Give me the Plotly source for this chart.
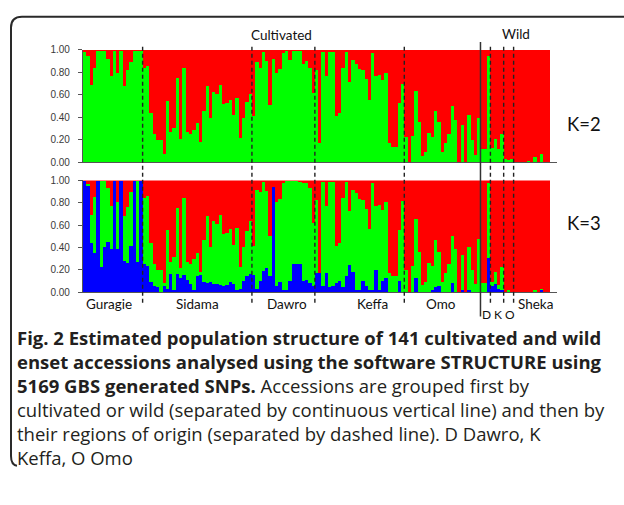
import plotly.graph_objects as go

W, H = 624, 505

group_names = ["Guragie", "Sidama", "Dawro", "Keffa", "Omo", "D", "K", "O", "Sheka"]
group_sizes = [18, 33, 19, 27, 23, 3, 4, 3, 11]

# K=2: proportion of the green cluster (rest is red)
k2_green = [
    # Guragie
    0.98, 0.95, 0.69, 0.84, 0.99, 0.99, 0.99, 0.92, 0.77, 0.99, 0.80, 0.99, 0.68, 0.82, 0.89, 0.99, 0.99, 0.99,
    # Sidama
    0.84, 0.86, 0.44, 0.25, 0.20, 0.20, 0.08, 0.55, 0.27, 0.31, 0.75, 0.21, 0.84, 0.27, 0.25, 0.29, 0.35,
    0.18, 0.46, 0.68, 0.40, 0.63, 0.61, 0.69, 0.52, 0.53, 0.56, 0.42, 0.57, 0.22, 0.40, 0.54, 0.61,
    # Dawro
    0.41, 0.89, 0.84, 0.98, 0.90, 0.51, 0.92, 0.80, 0.83, 0.97, 0.99, 0.91, 0.99, 0.99, 0.99, 0.88, 0.90, 0.84, 0.62,
    # Keffa
    0.82, 0.17, 0.98, 0.77, 0.98, 0.98, 0.41, 0.44, 0.84, 0.98, 0.72, 0.91, 0.88, 0.83, 0.82, 0.74, 0.56,
    0.97, 0.77, 0.78, 0.73, 0.80, 0.17, 0.14, 0.14, 0.53, 0.70,
    # Omo
    0.23, 0.00, 0.24, 0.64, 0.36, 0.06, 0.09, 0.26, 0.23, 0.46, 0.36, 0.09, 0.17, 0.25, 0.50, 0.38, 0.00,
    0.33, 0.00, 0.42, 0.20, 0.07, 0.40,
    # D, K, O (wild)
    0.12, 0.12, 0.95,
    0.13, 0.21, 0.12, 0.25,
    0.03, 0.02, 0.03,
    # Sheka
    0.00, 0.00, 0.00, 0.00, 0.01, 0.00, 0.05, 0.00, 0.08, 0.00, 0.00,
]

# K=3: upper edge of the green cluster (blue + green), rest is red
k3_top = [
    0.99, 0.96, 0.69, 0.85, 0.99, 0.99, 0.99, 0.93, 0.77, 0.99, 0.80, 0.99, 0.68, 0.76, 0.89, 0.99, 0.99, 0.99,
    0.84, 0.86, 0.44, 0.25, 0.20, 0.20, 0.08, 0.55, 0.27, 0.31, 0.75, 0.21, 0.84, 0.27, 0.25, 0.29, 0.35,
    0.18, 0.46, 0.68, 0.40, 0.63, 0.61, 0.69, 0.52, 0.53, 0.56, 0.42, 0.57, 0.22, 0.40, 0.54, 0.63,
    0.41, 0.91, 0.89, 0.98, 0.90, 0.50, 0.94, 0.80, 0.83, 0.97, 0.99, 0.99, 0.99, 0.99, 0.98, 0.97, 0.97, 0.93, 0.62,
    0.82, 0.17, 0.98, 0.77, 0.98, 0.98, 0.41, 0.44, 0.84, 0.98, 0.72, 0.91, 0.88, 0.83, 0.82, 0.74, 0.56,
    0.97, 0.77, 0.78, 0.73, 0.80, 0.17, 0.14, 0.14, 0.55, 0.81,
    0.20, 0.00, 0.23, 0.65, 0.36, 0.06, 0.09, 0.26, 0.23, 0.46, 0.36, 0.09, 0.17, 0.25, 0.50, 0.38, 0.00,
    0.33, 0.00, 0.40, 0.20, 0.07, 0.47,
    0.08, 0.08, 0.97,
    0.09, 0.18, 0.06, 0.22,
    0.00, 0.02, 0.00,
    0.00, 0.00, 0.00, 0.00, 0.00, 0.00, 0.02, 0.00, 0.03, 0.00, 0.00,
]

# K=3: proportion of the blue cluster
k3_blue = [
    0.99, 0.95, 0.44, 0.35, 0.99, 0.22, 0.40, 0.45, 0.38, 0.99, 0.38, 0.99, 0.28, 0.26, 0.41, 0.99, 0.27, 0.99,
    0.25, 0.23, 0.09, 0.05, 0.04, 0.00, 0.05, 0.03, 0.16, 0.02, 0.16, 0.12, 0.15, 0.11, 0.07, 0.02, 0.14,
    0.15, 0.09, 0.08, 0.09, 0.07, 0.07, 0.06, 0.05, 0.06, 0.09, 0.07, 0.02, 0.03, 0.10, 0.14, 0.16,
    0.15, 0.03, 0.10, 0.19, 0.21, 0.14, 0.94, 0.05, 0.09, 0.02, 0.02, 0.10, 0.25, 0.25, 0.25, 0.10, 0.11, 0.08, 0.05,
    0.17, 0.17, 0.05, 0.17, 0.04, 0.05, 0.08, 0.10, 0.04, 0.14, 0.24, 0.18, 0.02, 0.01, 0.10, 0.05, 0.02,
    0.02, 0.20, 0.02, 0.10, 0.12, 0.00, 0.00, 0.00, 0.10, 0.00,
    0.00, 0.00, 0.00, 0.12, 0.00, 0.00, 0.00, 0.00, 0.01, 0.04, 0.05, 0.00, 0.00, 0.00, 0.08, 0.00, 0.00,
    0.02, 0.00, 0.02, 0.00, 0.00, 0.00,
    0.00, 0.00, 0.30,
    0.05, 0.07, 0.03, 0.02,
    0.00, 0.00, 0.00,
    0.00, 0.00, 0.00, 0.00, 0.00, 0.00, 0.00, 0.00, 0.01, 0.00, 0.00,
]

y_ticks = [0.0, 0.2, 0.4, 0.6, 0.8, 1.0]

caption_lines = [
    "<b>Fig. 2 Estimated population structure of 141 cultivated and wild</b>",
    "<b>enset accessions analysed using the software STRUCTURE using</b>",
    "<b>5169 GBS generated SNPs.</b> Accessions are grouped first by",
    "cultivated or wild (separated by continuous vertical line) and then by",
    "their regions of origin (separated by dashed line). D Dawro, K",
    "Keffa, O Omo",
]

RED, GREEN, BLUE = "#FF0000", "#00FF00", "#0000FF"

n = len(k2_green)
idx = list(range(n))
full = [1.0] * n


def px(x):
    return x / W


def py(y):
    return 1 - y / H


fig = go.Figure()
# K=2 panel
fig.add_trace(go.Bar(x=idx, y=full, marker=dict(color=RED, line=dict(width=0)), width=1.0,
                     xaxis="x", yaxis="y", hoverinfo="skip"))
fig.add_trace(go.Bar(x=idx, y=k2_green, marker=dict(color=GREEN, line=dict(width=0)), width=1.0,
                     xaxis="x", yaxis="y", hoverinfo="skip"))
# K=3 panel
fig.add_trace(go.Bar(x=idx, y=full, marker=dict(color=RED, line=dict(width=0)), width=1.0,
                     xaxis="x2", yaxis="y2", hoverinfo="skip"))
fig.add_trace(go.Bar(x=idx, y=k3_top, marker=dict(color=GREEN, line=dict(width=0)), width=1.0,
                     xaxis="x2", yaxis="y2", hoverinfo="skip"))
fig.add_trace(go.Bar(x=idx, y=k3_blue, marker=dict(color=BLUE, line=dict(width=0)), width=1.0,
                     xaxis="x2", yaxis="y2", hoverinfo="skip"))

xr = [-0.5, n - 0.5 + 2.1]
xdom = [px(83), px(557)]
xaxis_common = dict(range=xr, domain=xdom, showgrid=False, zeroline=False, showticklabels=False,
                    ticks="", showline=True, linecolor="#555555", linewidth=1.2, fixedrange=True)
yaxis_common = dict(range=[0, 1], showgrid=False, zeroline=False, tickvals=y_ticks,
                    ticktext=[f"{v:.2f}" for v in y_ticks], ticks="outside", ticklen=4,
                    tickcolor="#555555", tickwidth=1, showline=True, linecolor="#555555", linewidth=1.2,
                    ticklabelstandoff=6,
                    tickfont=dict(family="Arial", size=10, color="#3a3a3a"), fixedrange=True)

fig.update_layout(
    width=W, height=H, margin=dict(l=0, r=0, t=0, b=0),
    paper_bgcolor="white", plot_bgcolor="white",
    barmode="overlay", bargap=0, showlegend=False,
    xaxis=dict(**xaxis_common, anchor="y"),
    yaxis=dict(**yaxis_common, domain=[py(160), py(44.7)], anchor="x"),
    xaxis2=dict(**xaxis_common, anchor="y2"),
    yaxis2=dict(**yaxis_common, domain=[py(293.3), py(178.7)], anchor="x2"),
)

shapes = []
# group separators
bounds = []
c = 0
for s in group_sizes[:-1]:
    c += s
    bounds.append(c - 0.5)
solid_at = sum(group_sizes[:5]) - 0.5
for b in bounds:
    if b == solid_at:
        shapes.append(dict(type="line", xref="x", yref="paper", x0=b, x1=b, y0=py(318), y1=py(37),
                           line=dict(color="#333333", width=1.5)))
    else:
        shapes.append(dict(type="line", xref="x", yref="paper", x0=b, x1=b, y0=py(304), y1=py(40),
                           line=dict(color="#222222", width=1.4, dash="4px,3px")))
# rounded frame
x0, y0, r = 11, 11, 11
frame = (f"M {px(W+5)},{py(y0)} L {px(x0+r)},{py(y0)} Q {px(x0)},{py(y0)} {px(x0)},{py(y0+r)} "
         f"L {px(x0)},{py(461)} Q {px(x0)},{py(470)} {px(x0+6)},{py(471)}")
shapes.append(dict(type="path", xref="paper", yref="paper", path=frame,
                   line=dict(color="#2a2a2a", width=2)))
fig.update_layout(shapes=shapes)

ann = []
lab_font = dict(family="Lato", size=13.5, color="#111111")
ann.append(dict(text="Cultivated", x=px(281), y=py(30), xref="paper", yref="paper", showarrow=False,
                font=lab_font, xanchor="center", yanchor="middle"))
ann.append(dict(text="Wild", x=px(516), y=py(29), xref="paper", yref="paper", showarrow=False,
                font=lab_font, xanchor="center", yanchor="middle"))
ann.append(dict(text="K=2", x=px(584), y=py(121), xref="paper", yref="paper", showarrow=False,
                font=dict(family="Lato", size=18.5, color="#111111"), xanchor="center", yanchor="middle"))
ann.append(dict(text="K=3", x=px(584), y=py(222), xref="paper", yref="paper", showarrow=False,
                font=dict(family="Lato", size=18.5, color="#111111"), xanchor="center", yanchor="middle"))
region_px = {"Guragie": 109, "Sidama": 197, "Dawro": 287, "Keffa": 372, "Omo": 441, "Sheka": 535}
for name, xpx in region_px.items():
    ann.append(dict(text=name, x=px(xpx), y=py(305), xref="paper", yref="paper", showarrow=False,
                    font=lab_font, xanchor="center", yanchor="middle"))
for name, xpx in {"D": 486, "K": 498, "O": 510}.items():
    ann.append(dict(text=name, x=px(xpx), y=py(316), xref="paper", yref="paper", showarrow=False,
                    font=dict(family="Lato", size=12, color="#111111"), xanchor="center", yanchor="middle"))
ann.append(dict(text="<br>".join(caption_lines), x=px(15), y=py(401), xref="paper", yref="paper",
                showarrow=False, xanchor="left", yanchor="middle", align="left",
                font=dict(family="Open Sans", size=18.5, color="#231f20")))
fig.update_layout(annotations=ann)

fig.write_html("out.html")
